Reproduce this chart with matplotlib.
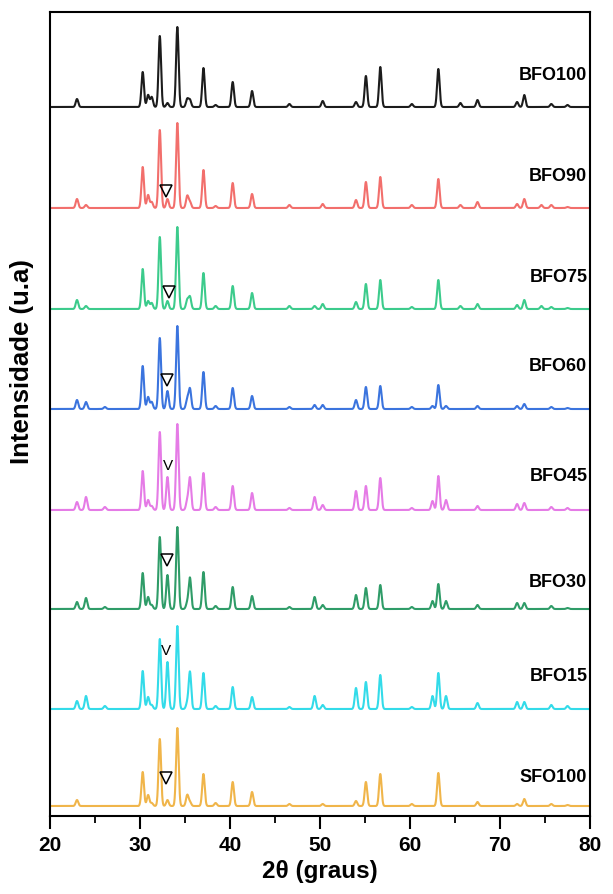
import numpy as np
import matplotlib
matplotlib.use("Agg")
import matplotlib.pyplot as plt

plt.rcParams['font.family'] = ['Liberation Sans', 'DejaVu Sans']
plt.rcParams['font.weight'] = 'bold'

# peak positions (2theta, graus), shared by all samples
peak_pos = [23.0, 24.0, 26.1, 30.3, 30.9, 31.3, 32.2, 33.05, 34.15, 35.25, 35.55,
            37.05, 38.4, 40.3, 42.45, 46.6, 49.4, 50.3, 54.0, 55.1, 56.7, 60.2,
            62.5, 63.15, 64.0, 65.6, 67.5, 71.9, 72.7, 74.6, 75.7, 77.5]

# peak heights per sample (arbitrary units)
bfo100 = [8, 0, 0, 35, 12, 10, 71, 4, 80, 8, 7, 39, 2, 25, 16, 3, 0, 6, 5, 31, 40, 3,
          0, 38, 0, 4, 7, 5, 12, 0, 3, 2]
bfo90 = [9, 3, 0, 41, 13, 6, 78, 9, 85, 12, 6, 38, 2, 25, 14, 3, 0, 4, 8, 26, 31, 3,
         0, 29, 0, 3, 6, 4, 9, 3, 3, 1]
bfo75 = [9, 3, 0, 40, 8, 6, 72, 8, 82, 9, 12, 36, 3, 23, 16, 3, 3, 5, 7, 25, 29, 2,
         0, 29, 0, 3, 5, 4, 9, 3, 2, 1]
bfo60 = [9, 7, 2, 43, 12, 7, 71, 18, 83, 10, 20, 37, 3, 21, 13, 2, 4, 4, 9, 22, 23, 2,
         3, 24, 3, 0, 3, 3, 5, 0, 2, 1]
bfo45 = [8, 13, 3, 39, 10, 4, 78, 33, 86, 9, 32, 37, 3, 24, 17, 2, 13, 5, 19, 24, 32, 2,
         9, 34, 10, 0, 4, 6, 7, 0, 3, 2]
bfo30 = [7, 11, 2, 36, 12, 4, 72, 34, 82, 6, 31, 37, 3, 22, 13, 2, 12, 4, 14, 21, 24, 2,
         8, 25, 8, 0, 4, 6, 6, 0, 3, 1]
bfo15 = [8, 13, 3, 38, 12, 4, 70, 47, 83, 6, 37, 36, 3, 22, 12, 2, 13, 4, 21, 27, 34, 2,
         13, 36, 13, 0, 6, 7, 7, 0, 4, 3]
sfo100 = [6, 0, 0, 34, 11, 3, 67, 6, 78, 11, 4, 32, 3, 24, 14, 2, 0, 2, 5, 24, 32, 2,
          0, 33, 0, 0, 4, 2, 7, 0, 2, 1]

samples = ["BFO100", "BFO90", "BFO75", "BFO60", "BFO45", "BFO30", "BFO15", "SFO100"]
heights = [bfo100, bfo90, bfo75, bfo60, bfo45, bfo30, bfo15, sfo100]
offsets = [709, 608, 507, 407, 306, 207, 107, 10]
colors = ["#1c1c1c", "#f26f6c", "#3ccb8c", "#3b74de", "#e57be6", "#2f9c68",
          "#33dbe9", "#f0b54a"]
label_y = [741, 640, 539, 450, 340, 234, 140, 39]

# marked peak (triangle) for each sample except BFO100
mark_x = [None, 32.9, 33.2, 33.0, 33.1, 33.0, 32.9, 32.9]
mark_dy = [None, 17, 17, 29, 45, 49, 59, 28]
mark_sym = [None, "tri", "tri", "tri", "V", "tri", "V", "tri"]

tt = np.linspace(20, 80, 4000)
sigma = 0.14

fig = plt.figure(figsize=(6.13, 8.95), dpi=100)
ax = fig.add_axes([50/613, 78/895, 540/613, 804/895])

for name, h, off, c in zip(samples, heights, offsets, colors):
    y = np.full_like(tt, off, dtype=float)
    for p, a in zip(peak_pos, h):
        y += a * np.exp(-0.5 * ((tt - p) / sigma) ** 2)
    ax.plot(tt, y, color=c, lw=1.5)

for name, ly in zip(samples, label_y):
    ax.text(79.7, ly, name, ha='right', va='center', fontsize=13, fontweight='bold')

for mx, dy, off, sym in zip(mark_x, mark_dy, offsets, mark_sym):
    if mx is None:
        continue
    if sym == "tri":
        ax.plot(mx, off + dy, marker='v', ms=8, mfc='none', mec='black', mew=1.1)
    else:
        ax.text(mx, off + dy, "V", ha='center', va='center', fontsize=11,
                fontweight='normal')

ax.set_xlim(20, 80)
ax.set_ylim(0, 804)
ax.set_xticks(range(20, 81, 10))
ax.set_xticks(range(25, 80, 10), minor=True)
ax.set_yticks([])
ax.tick_params(axis='x', which='major', direction='out', length=9, width=1.5,
               labelsize=15, pad=5)
ax.tick_params(axis='x', which='minor', direction='out', length=5, width=1.3)
for lab in ax.get_xticklabels():
    lab.set_fontweight('bold')
for sp in ax.spines.values():
    sp.set_linewidth(1.5)

ax.set_xlabel("2θ (graus)", fontsize=17.5, fontweight='bold', labelpad=3)
fig.text(22/613, 1 - 362/895, "Intensidade (u.a)", rotation=90, ha='center',
         va='center', fontsize=18.5, fontweight='bold')

fig.savefig("out.png", dpi=100)
